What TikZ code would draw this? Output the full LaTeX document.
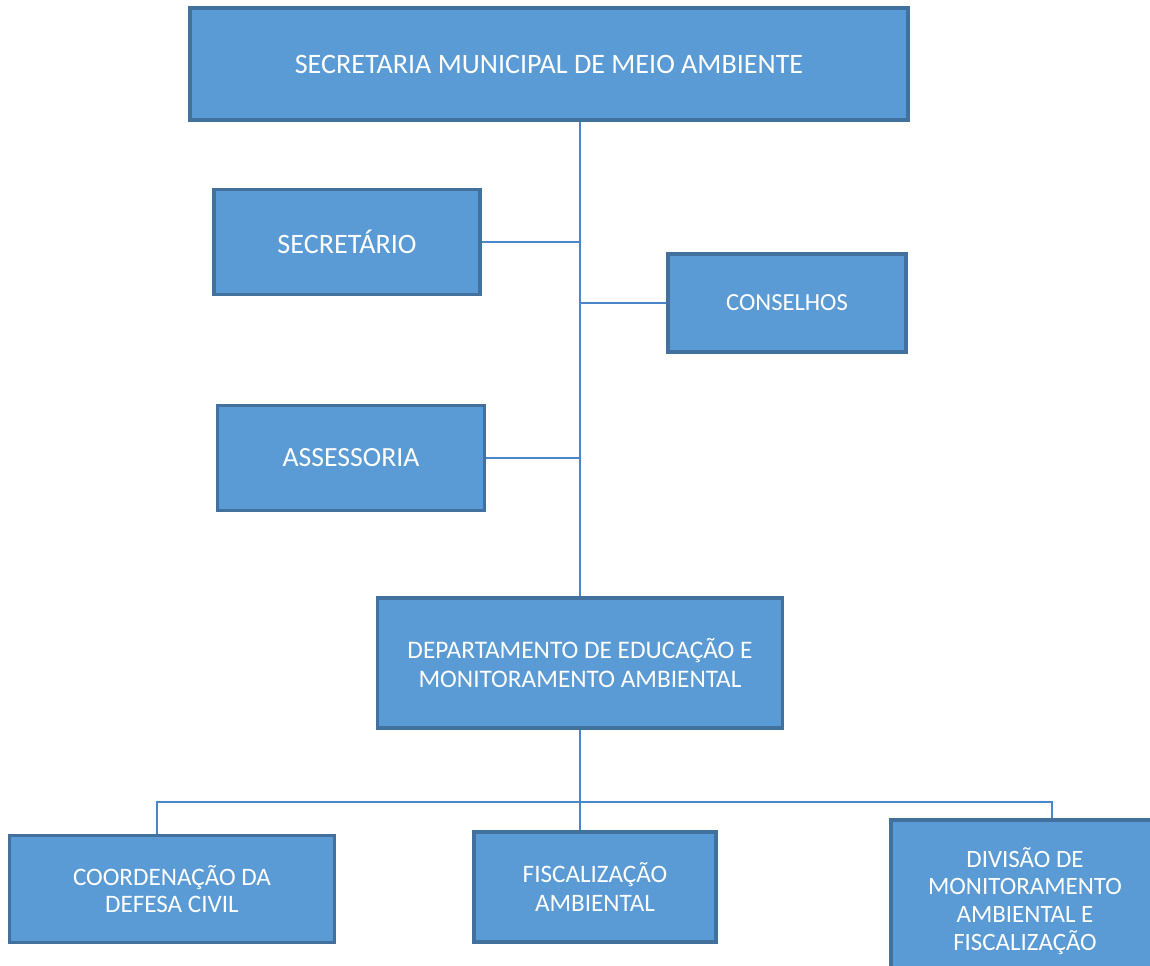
\documentclass[tikz,border=0pt]{standalone}
\usepackage{fontspec}
\setmainfont{Carlito}
\usepackage{tikz}
\usetikzlibrary{calc}
\definecolor{boxfill}{HTML}{5B9BD5}
\definecolor{boxline}{HTML}{41719C}
\definecolor{wirecol}{HTML}{4A86C8}
\tikzset{
    orgbox/.style={draw=boxline, line width=1.8pt, fill=boxfill, text=white, align=center, inner sep=0pt},
    wire/.style={draw=wirecol, line width=1.1pt}
}

\begin{document}
\begin{tikzpicture}[x=0.02cm, y=-0.02cm]
\useasboundingbox (0,0) rectangle (1150,965);
\clip (0,0) rectangle (1150,965);
% boxes of the chart
\foreach \x/\y/\w/\h/\fs/\ls/\p/\labeltext in {549/64/718/112/16/18/sec/{SECRETARIA MUNICIPAL DE MEIO AMBIENTE}, 347/242/266/105/16/18/secr/{SECRET\'ARIO}, 787/303/238/98/14/17/cons/{CONSELHOS}, 351/458/267/105/15.8/18/asse/{ASSESSORIA}, 580/663/405/130/14.4/17/dep/{DEPARTAMENTO DE EDUCA\c{C}\~AO E\\MONITORAMENTO AMBIENTAL}, 172/889/325/107/14.3/15.5/coord/{COORDENA\c{C}\~AO DA\\DEFESA CIVIL}, 595/887/242/110/14.3/16.5/fisc/{FISCALIZA\c{C}\~AO\\AMBIENTAL}, 1025/901/268/162/14.2/15.8/div/{DIVIS\~AO DE\\MONITORAMENTO\\AMBIENTAL E\\FISCALIZA\c{C}\~AO}}{
    \node[orgbox, font=\fontsize{\fs}{\ls}\selectfont, minimum width=\w*0.02cm, minimum height=\h*0.02cm] (\p) at (\x,\y) {\labeltext};
}
\coordinate (barL) at (157,802);
\coordinate (barR) at (1052,802);
% connectors
\draw[wire] (sec.south -| dep.north) -- (dep.north);
\draw[wire] (secr.east) -- (secr.east -| dep.north);
\draw[wire] (cons.west) -- (cons.west -| dep.north);
\draw[wire] (asse.east) -- (asse.east -| dep.north);
\draw[wire] (dep.south) -- (dep.south |- fisc.north);
\draw[wire] (coord.north -| barL) -- (barL) -- (barR) -- (barR |- div.north);
\end{tikzpicture}
\end{document}
